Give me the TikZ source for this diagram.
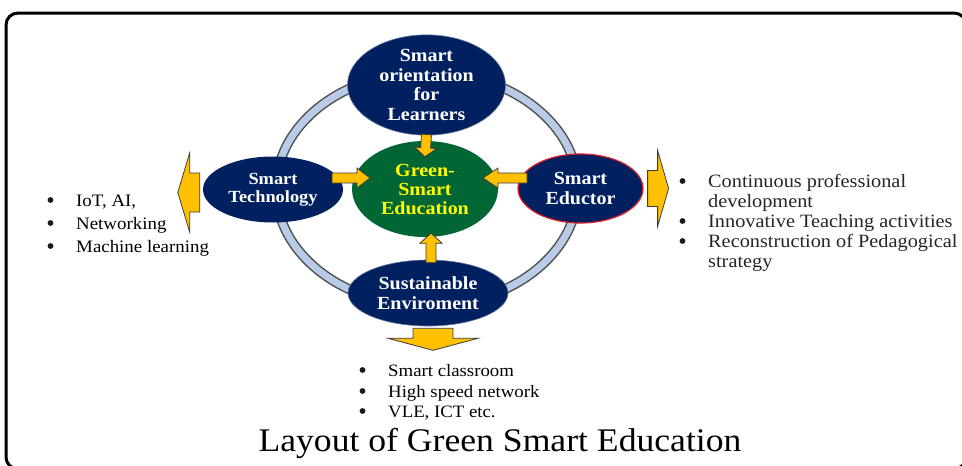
\documentclass[tikz,border=0pt]{standalone}
\usepackage{fontspec}
\setmainfont{Liberation Serif}[FakeStretch=1.08]
\usetikzlibrary{shapes.geometric,calc}

\definecolor{navy}{RGB}{0,32,96}
\definecolor{hubgreen}{RGB}{0,102,51}
\definecolor{arrowgold}{RGB}{255,192,0}
\definecolor{arrowedge}{RGB}{60,60,60}
\definecolor{ringblue}{RGB}{184,204,232}
\definecolor{ringedge}{RGB}{80,80,80}
\definecolor{eductorred}{RGB}{225,30,45}
\definecolor{hubtext}{RGB}{255,255,0}

% block arrow from tail #1 to tip #2: half shaft width #3, half head width #4, head length #5
\newcommand\blockarrow[5]{%
  \draw[blockarr] ($(#1)!#3!90:(#2)$)
    -- ($(#2)!#5!(#1)!#3!90:(#2)$)
    -- ($(#2)!#5!(#1)!#4!90:(#2)$)
    -- (#2)
    -- ($(#2)!#5!(#1)!#4!-90:(#2)$)
    -- ($(#2)!#5!(#1)!#3!-90:(#2)$)
    -- ($(#1)!#3!-90:(#2)$) -- cycle;}
% round list marker drawn in front of an item node
\newcommand\itemdot[1]{\fill[black!90] ($(#1.base west)+(-25.5,-6)$) circle (2.9pt);}

\tikzset{
  bubble/.style={ellipse, fill=navy, inner sep=0pt, align=center, text=white,
    font=\fontsize{18.5}{19.5}\selectfont\bfseries},
  blockarr/.style={fill=arrowgold, draw=arrowedge, line width=0.8pt, line join=miter},
  listtext/.style={anchor=base west, inner sep=0pt, font=\fontsize{17.5}{20}\selectfont},
  righttext/.style={anchor=base west, inner sep=0pt, text=black!85,
    font=\fontsize{18.8}{20}\selectfont},
  bottomtext/.style={anchor=base west, inner sep=0pt, font=\fontsize{17.4}{20}\selectfont},
}

\begin{document}
\begin{tikzpicture}[x=1pt,y=-1pt]
\useasboundingbox (0,0) rectangle (962,466);
\fill[white] (0,0) rectangle (962,466);

% outer frame
\draw[line width=3pt, rounded corners=12pt] (6,13) rectangle (966,469);

% ring linking the four outer bubbles
\draw[ringedge, line width=10pt] (427,189) ellipse [x radius=151, y radius=117];
\draw[ringblue, line width=7pt] (427,189) ellipse [x radius=151, y radius=117];

% bubbles
\node[bubble, minimum width=158pt, minimum height=86pt, draw=navy!60!white, line width=0.6pt]
  (learn) at (426.5,85) {Smart\\orientation\\for\\Learners};
\node[ellipse, fill=hubgreen, minimum width=146pt, minimum height=96pt, inner sep=0pt,
  align=center, text=hubtext, font=\fontsize{18.5}{19}\selectfont\bfseries]
  (hub) at (425,189) {Green-\\Smart\\Education};
\node[bubble, minimum width=140pt, minimum height=66pt,
  font=\fontsize{17}{18.5}\selectfont\bfseries] (tech) at (273,189.5) {Smart\\Technology};
\node[bubble, minimum width=125pt, minimum height=69pt, draw=eductorred, line width=1.2pt]
  (eductor) at (580.5,188.5) {Smart\\Eductor};
\node[bubble, minimum width=160pt, minimum height=66pt, draw=navy!60!white, line width=0.6pt]
  (env) at (428,293) {Sustainable\\Enviroment};

% arrow ends
\coordinate (learnout) at ($(learn.south)+(0,-1)$);
\coordinate (learnin) at ($(hub.north)+(0,16)$);
\coordinate (techout) at (332,178);
\coordinate (techin) at (370,178);
\coordinate (eduout) at (527,178);
\coordinate (eduin) at (483,178);
\coordinate (envout) at ($(env.north)+(3,3)$);
\coordinate (envin) at ($(hub.south)+(6,-4)$);
\coordinate (techlisttail) at ($(tech.west)+(-3,3)$);
\coordinate (techlisthead) at ($(tech.west)+(-25,3)$);
\coordinate (edulisttail) at ($(eductor.east)+(4,0)$);
\coordinate (edulisthead) at ($(eductor.east)+(25,0)$);
\coordinate (envlisttail) at ($(env.south)+(5,2)$);
\coordinate (envlisthead) at ($(env.south)+(5,24)$);

% arrows into the hub
\blockarrow{learnout}{learnin}{5pt}{11pt}{9pt}
\blockarrow{techout}{techin}{5pt}{10pt}{13pt}
\blockarrow{eduout}{eduin}{5pt}{10pt}{15pt}
\blockarrow{envout}{envin}{5pt}{11pt}{10pt}

% arrows out to the lists
\blockarrow{techlisttail}{techlisthead}{19.5pt}{40pt}{12pt}
\blockarrow{edulisttail}{edulisthead}{18pt}{38pt}{11pt}
\blockarrow{envlisttail}{envlisthead}{20pt}{45pt}{12pt}

% technology list
\node[listtext] (tl1) at (76,206) {IoT, AI,};
\node[listtext] (tl2) at (76,229) {Networking};
\node[listtext] (tl3) at (76,252) {Machine learning};
\itemdot{tl1}\itemdot{tl2}\itemdot{tl3}

% educator list
\node[righttext] (el1) at (708,187) {Continuous professional};
\node[righttext] (el2) at (708,207) {development};
\node[righttext] (el3) at (708,227) {Innovative Teaching activities};
\node[righttext] (el4) at (708,247) {Reconstruction of Pedagogical};
\node[righttext] (el5) at (708,267) {strategy};
\itemdot{el1}\itemdot{el3}\itemdot{el4}

% environment list
\node[bottomtext] (vl1) at (388,376) {Smart classroom};
\node[bottomtext] (vl2) at (388,397) {High speed network};
\node[bottomtext] (vl3) at (388,417) {VLE, ICT etc.};
\itemdot{vl1}\itemdot{vl2}\itemdot{vl3}

% caption
\node[anchor=base, inner sep=0pt, font=\fontsize{33}{36}\selectfont] (caption) at (500,451)
  {Layout of Green Smart Education};
\end{tikzpicture}
\end{document}
